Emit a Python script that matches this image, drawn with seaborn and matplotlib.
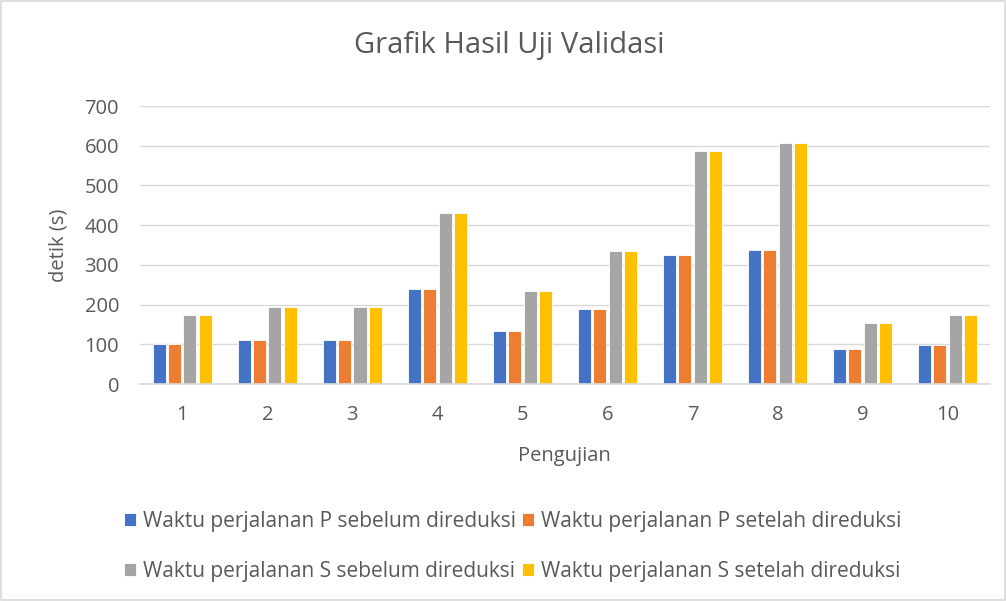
import pandas as pd
import matplotlib
matplotlib.use("Agg")
import matplotlib.pyplot as plt
import seaborn as sns

pengujian = ["1", "2", "3", "4", "5", "6", "7", "8", "9", "10"]
p_sebelum = [101, 111, 111, 240, 134, 188, 324, 337, 89, 98]
p_setelah = [101, 111, 111, 240, 134, 188, 324, 337, 89, 98]
s_sebelum = [175, 194, 194, 430, 234, 336, 588, 608, 153, 175]
s_setelah = [175, 194, 194, 430, 234, 336, 588, 608, 153, 175]

seri = ["Waktu perjalanan P sebelum direduksi", "Waktu perjalanan P setelah direduksi",
        "Waktu perjalanan S sebelum direduksi", "Waktu perjalanan S setelah direduksi"]
warna = ["#4472C4", "#ED7D31", "#A5A5A5", "#FFC000"]

df = pd.DataFrame({"Pengujian": pengujian * 4,
                   "detik": p_sebelum + p_setelah + s_sebelum + s_setelah,
                   "seri": [s for s in seri for _ in pengujian]})

sns.set_theme(style="white")
plt.rcParams['font.family'] = ['Open Sans', 'DejaVu Sans']
teks = "#595959"

fig = plt.figure(figsize=(10.06, 6.01), dpi=100)
ax = fig.add_axes([0.139, 0.361, 0.845, 0.4626])
sns.barplot(data=df, x="Pengujian", y="detik", hue="seri", palette=warna, saturation=1,
            width=0.72, gap=0.15, edgecolor="white", linewidth=0.6, ax=ax)

ax.set_ylim(0, 700)
ax.set_yticks(range(0, 701, 100))
ax.yaxis.grid(True, color="#D9D9D9", linewidth=1)
ax.set_axisbelow(True)
for s in ["top", "right", "left"]:
    ax.spines[s].set_visible(False)
ax.spines["bottom"].set_color("#D9D9D9")
ax.tick_params(axis="y", colors=teks, labelsize=14.5, length=0, pad=15)
ax.tick_params(axis="x", colors=teks, labelsize=14.5, length=0, pad=15)
ax.set_xlabel("Pengujian", color=teks, fontsize=14.5, labelpad=15)
ax.set_ylabel("")
fig.text(0.058, 0.591, "detik (s)", color=teks, fontsize=14.5, rotation=90,
         ha="center", va="center")
fig.text(0.506, 0.925, "Grafik Hasil Uji Validasi", color=teks, fontsize=21,
         ha="center", va="center")

h, l = ax.get_legend_handles_labels()
ax.legend_.remove()
urut = [0, 2, 1, 3]
leg = fig.legend([h[i] for i in urut], [l[i] for i in urut], ncol=2,
                 loc="center", bbox_to_anchor=(0.51, 0.091), frameon=False,
                 fontsize=15, labelcolor=teks, handlelength=0.55, handleheight=0.55,
                 handletextpad=0.35, columnspacing=0.3, labelspacing=1.4)

fig.patches.append(plt.Rectangle((0.001, 0.001), 0.998, 0.998, transform=fig.transFigure,
                                 fill=False, edgecolor="#D9D9D9", linewidth=1.2))
fig.savefig("out.png", dpi=100, facecolor="white")
